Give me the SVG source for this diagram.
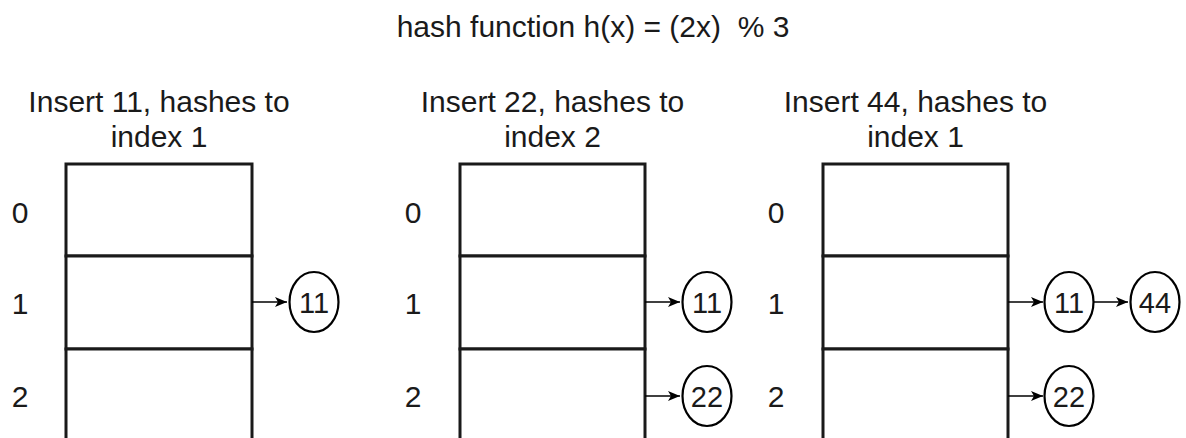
<svg xmlns="http://www.w3.org/2000/svg" width="1186" height="438" viewBox="0 0 1186 438">
<defs>
<marker id="arr" markerWidth="14" markerHeight="14" refX="12" refY="7" orient="auto" markerUnits="userSpaceOnUse">
<path d="M0,2 L12,7 L0,12 L3,7 Z" fill="#000"/>
</marker>
<style>
text{font-family:"Liberation Sans",Arial,sans-serif;fill:#1a1a1a;white-space:pre}
.t{font-size:30px;text-anchor:middle}
.d{font-size:30px;text-anchor:middle}
.n{font-size:29px;text-anchor:middle}
.cell{fill:#fff;stroke:#1a1a1a;stroke-width:3}
.node{fill:#fff;stroke:#000;stroke-width:2.2}
.edge{stroke:#000;stroke-width:1.6;fill:none;marker-end:url(#arr)}
</style>
</defs>
<rect width="1186" height="438" fill="#fff"/>
<text class="t" x="593" y="37" xml:space="preserve">hash function h(x) = (2x)  % 3</text>

<g id="table1">
<text class="t" x="159" y="112">Insert 11, hashes to</text>
<text class="t" x="159" y="147">index 1</text>
<rect class="cell" x="66" y="164" width="186" height="92"/>
<rect class="cell" x="66" y="256" width="186" height="93"/>
<rect class="cell" x="66" y="349" width="186" height="100"/>
<text class="d" x="20" y="223">0</text>
<text class="d" x="20" y="314">1</text>
<text class="d" x="20" y="407">2</text>
</g>
<g id="table2">
<text class="t" x="552.5" y="112">Insert 22, hashes to</text>
<text class="t" x="552.5" y="147">index 2</text>
<rect class="cell" x="460" y="164" width="185" height="92"/>
<rect class="cell" x="460" y="256" width="185" height="93"/>
<rect class="cell" x="460" y="349" width="185" height="100"/>
<text class="d" x="413" y="223">0</text>
<text class="d" x="413" y="314">1</text>
<text class="d" x="413" y="407">2</text>
</g>
<g id="table3">
<text class="t" x="915.5" y="112">Insert 44, hashes to</text>
<text class="t" x="915.5" y="147">index 1</text>
<rect class="cell" x="823" y="164" width="185" height="92"/>
<rect class="cell" x="823" y="256" width="185" height="93"/>
<rect class="cell" x="823" y="349" width="185" height="100"/>
<text class="d" x="776" y="223">0</text>
<text class="d" x="776" y="314">1</text>
<text class="d" x="776" y="407">2</text>
</g>

<g id="connectors">
<line class="edge" x1="252" y1="302" x2="287" y2="302"/>
<line class="edge" x1="645" y1="302" x2="680" y2="302"/>
<line class="edge" x1="645" y1="396" x2="680" y2="396"/>
<line class="edge" x1="1008" y1="302" x2="1043" y2="302"/>
<line class="edge" x1="1093" y1="302" x2="1128" y2="302"/>
<line class="edge" x1="1008" y1="396" x2="1043" y2="396"/>
</g>

<g id="n1_11"><ellipse class="node" cx="314" cy="302" rx="24.5" ry="30"/><text class="n" x="314" y="312.5">11</text></g>
<g id="n2_11"><ellipse class="node" cx="707" cy="302" rx="24.5" ry="30"/><text class="n" x="707" y="312.5">11</text></g>
<g id="n2_22"><ellipse class="node" cx="707" cy="396" rx="24.5" ry="30"/><text class="n" x="707" y="406.5">22</text></g>
<g id="n3_11"><ellipse class="node" cx="1069" cy="302" rx="24.5" ry="30"/><text class="n" x="1069" y="312.5">11</text></g>
<g id="n3_44"><ellipse class="node" cx="1155" cy="302" rx="24.5" ry="30"/><text class="n" x="1155" y="312.5">44</text></g>
<g id="n3_22"><ellipse class="node" cx="1069" cy="396" rx="24.5" ry="30"/><text class="n" x="1069" y="406.5">22</text></g>
</svg>
